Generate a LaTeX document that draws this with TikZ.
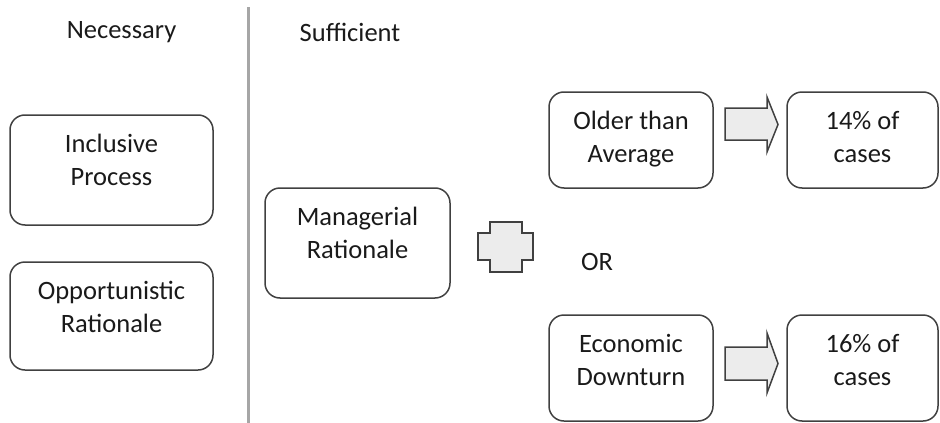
\documentclass[tikz,border=0pt]{standalone}
\usepackage{fontspec}
\setmainfont{Carlito}
\definecolor{boxline}{HTML}{404040}
\definecolor{divline}{HTML}{A6A6A6}
\definecolor{shapefill}{HTML}{ECECEC}
\definecolor{inktext}{HTML}{1A1A1A}
\begin{document}
\begin{tikzpicture}[x=1pt,y=-1pt,
	every node/.style={font=\fontsize{26.5}{33}\selectfont, text=inktext},
	box/.style={draw=boxline, line width=1.5pt, rounded corners=15pt, inner sep=0pt},
	boxtext/.style={anchor=north, yshift=-20pt, align=center, inner sep=0pt},
	blockshape/.style={draw=boxline, fill=shapefill, line width=1.5pt}]
	\useasboundingbox (0,0) rectangle (940,423);

	% headings and divider
	\node (nec) at (121.5,32) {Necessary};
	\node (suf) at (350,32) {Sufficient};
	\coordinate (divtop) at (248,7);
	\coordinate (divbot) at (248,423);
	\draw[divline, line width=3pt] (divtop) -- (divbot);

	% necessary conditions
	\node (inc) at (111.5,170) [box, minimum width=203, minimum height=110,
		label={[boxtext]north:Inclusive\\Process}] {};
	\node (opp) at (111.5,316) [box, minimum width=203, minimum height=108,
		label={[boxtext]north:Opportunistic\\Rationale}] {};

	% sufficient conditions
	\node (man) at (357.5,243) [box, minimum width=185, minimum height=110,
		label={[boxtext]north:Managerial\\Rationale}] {};
	\node (old) at (631,140) [box, minimum width=164, minimum height=96,
		label={[boxtext]north:Older than\\Average}] {};
	\node (eco) at (631,368) [box, minimum width=164, minimum height=106,
		label={[boxtext]north:Economic\\Downturn}] {};
	\node (or) at (597,262) {OR};

	% outcomes
	\node (p14) at (862.5,140) [box, minimum width=151, minimum height=96,
		label={[boxtext]north:14\% of\\cases}] {};
	\node (p16) at (862.5,368) [box, minimum width=151, minimum height=106,
		label={[boxtext]north:16\% of\\cases}] {};

	% plus sign
	\draw[blockshape] (490,222) -- (522,222) -- (522,233) -- (533,233) -- (533,260)
		-- (522,260) -- (522,272) -- (490,272) -- (490,260) -- (478,260)
		-- (478,233) -- (490,233) -- cycle;

	% block arrows
	\draw[blockshape] (725,108) -- (767,108) -- (767,97) -- (778,124.5)
		-- (767,152) -- (767,140) -- (725,140) -- cycle;
	\draw[blockshape] (725,347) -- (767,347) -- (767,333) -- (778,363.5)
		-- (767,393) -- (767,380) -- (725,380) -- cycle;
\end{tikzpicture}
\end{document}
